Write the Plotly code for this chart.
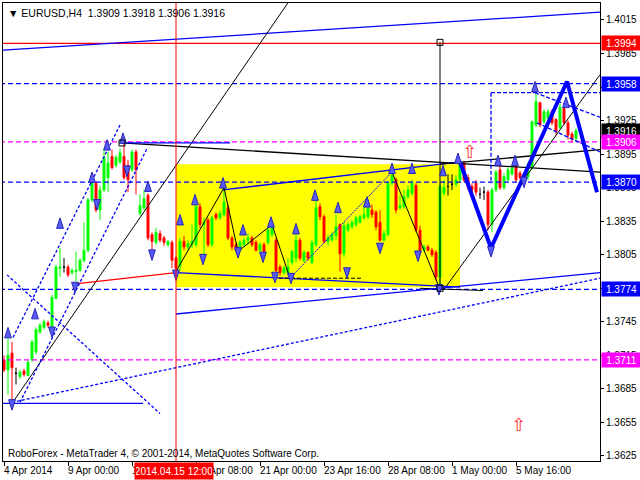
import plotly.graph_objects as go

# ---------------- data ----------------
opens = [1.3711,1.3702,1.3717,1.3699,1.3696,1.3701,1.3697,1.3711,1.3718,1.3736,
         1.3740,1.3744,1.3736,1.3766,1.3793,1.3794,1.3794,1.3789,1.3790,1.3791,
         1.3800,1.3809,1.3854,1.3869,1.3845,1.3863,1.3874,1.3893,1.3885,1.3888,
         1.3893,1.3885,1.3881,1.3897,1.3842,1.3847,1.3858,1.3823,1.3816,1.3824,
         1.3820,1.3814,1.3816,1.3802,1.3795,1.3817,1.3812,1.3814,1.3814,1.3848,
         1.3832,1.3836,1.3814,1.3841,1.3838,1.3841,1.3847,1.3820,1.3814,1.3809,
         1.3814,1.3818,1.3820,1.3816,1.3809,1.3814,1.3816,1.3823,1.3818,1.3794,
         1.3789,1.3789,1.3798,1.3802,1.3818,1.3800,1.3807,1.3798,1.3814,1.3848,
         1.3839,1.3817,1.3818,1.3822,1.3832,1.3806,1.3827,1.3830,1.3832,1.3834,
         1.3838,1.3839,1.3845,1.3843,1.3834,1.3818,1.3823,1.3869,1.3872,1.3847,
         1.3848,1.3857,1.3860,1.3867,1.3827,1.3809,1.3812,1.3809,1.3807,1.3785,
         1.3860,1.3866,1.3868,1.3868,1.3872,1.3887,1.3874,1.3866,1.3869,1.3859,
         1.3861,1.3861,1.3832,1.3863,1.3881,1.3865,1.3872,1.3877,1.3884,1.3878,
         1.3877,1.3875,1.3883,1.3921,1.3941,1.3924,1.3927,1.3933,1.3926,1.3919,
         1.3936,1.3923,1.3913,1.3909]
highs = [1.3715,1.3731,1.3727,1.3704,1.3702,1.3703,1.3711,1.3729,1.3740,1.3744,
         1.3747,1.3746,1.3769,1.3796,1.3811,1.3802,1.3796,1.3793,1.3808,1.3802,
         1.3834,1.3856,1.3871,1.3871,1.3867,1.3899,1.3897,1.3899,1.3894,1.3900,
         1.3905,1.3890,1.3899,1.3899,1.3859,1.3863,1.3860,1.3825,1.3829,1.3827,
         1.3822,1.3818,1.3818,1.3804,1.3820,1.3822,1.3818,1.3832,1.3850,1.3851,
         1.3838,1.3838,1.3840,1.3843,1.3845,1.3865,1.3850,1.3822,1.3816,1.3818,
         1.3820,1.3824,1.3822,1.3818,1.3816,1.3816,1.3829,1.3832,1.3820,1.3796,
         1.3795,1.3802,1.3809,1.3825,1.3820,1.3809,1.3808,1.3818,1.3854,1.3851,
         1.3841,1.3823,1.3825,1.3841,1.3833,1.3834,1.3834,1.3836,1.3840,1.3841,
         1.3850,1.3854,1.3850,1.3845,1.3845,1.3827,1.3871,1.3879,1.3874,1.3858,
         1.3863,1.3867,1.3872,1.3869,1.3831,1.3814,1.3814,1.3811,1.3809,1.3868,
         1.3872,1.3877,1.3877,1.3876,1.3890,1.3889,1.3877,1.3869,1.3872,1.3865,
         1.3866,1.3863,1.3865,1.3881,1.3885,1.3878,1.3883,1.3885,1.3885,1.3880,
         1.3879,1.3888,1.3925,1.3950,1.3942,1.3935,1.3935,1.3935,1.3927,1.3940,
         1.3938,1.3925,1.3915,1.3918]
lows = [1.3700,1.3680,1.3672,1.3689,1.3694,1.3696,1.3696,1.3709,1.3716,1.3734,
        1.3738,1.3740,1.3734,1.3765,1.3785,1.3789,1.3785,1.3787,1.3781,1.3790,
        1.3798,1.3807,1.3852,1.3843,1.3836,1.3861,1.3861,1.3881,1.3883,1.3886,
        1.3872,1.3861,1.3879,1.3859,1.3840,1.3845,1.3818,1.3807,1.3814,1.3816,
        1.3813,1.3812,1.3793,1.3790,1.3791,1.3809,1.3809,1.3811,1.3812,1.3829,
        1.3803,1.3812,1.3812,1.3836,1.3836,1.3839,1.3818,1.3809,1.3808,1.3808,
        1.3812,1.3814,1.3812,1.3808,1.3808,1.3805,1.3814,1.3821,1.3789,1.3786,
        1.3787,1.3787,1.3796,1.3798,1.3800,1.3798,1.3800,1.3797,1.3812,1.3836,
        1.3815,1.3813,1.3817,1.3818,1.3790,1.3803,1.3825,1.3828,1.3830,1.3833,
        1.3836,1.3837,1.3838,1.3827,1.3817,1.3817,1.3821,1.3867,1.3842,1.3845,
        1.3846,1.3855,1.3858,1.3825,1.3807,1.3808,1.3808,1.3803,1.3782,1.3774,
        1.3858,1.3858,1.3863,1.3866,1.3870,1.3870,1.3863,1.3860,1.3858,1.3855,
        1.3854,1.3827,1.3825,1.3861,1.3863,1.3863,1.3870,1.3876,1.3870,1.3872,
        1.3869,1.3872,1.3881,1.3919,1.3919,1.3922,1.3926,1.3921,1.3912,1.3917,
        1.3921,1.3908,1.3905,1.3906]
closes = [1.3702,1.3715,1.3704,1.3699,1.3700,1.3698,1.3709,1.3727,1.3738,1.3742,
          1.3745,1.3742,1.3767,1.3794,1.3794,1.3794,1.3787,1.3791,1.3791,1.3800,
          1.3809,1.3854,1.3869,1.3845,1.3863,1.3892,1.3887,1.3883,1.3892,1.3896,
          1.3874,1.3872,1.3897,1.3881,1.3849,1.3855,1.3820,1.3817,1.3825,1.3818,
          1.3816,1.3817,1.3800,1.3793,1.3817,1.3812,1.3815,1.3817,1.3848,1.3832,
          1.3834,1.3814,1.3838,1.3838,1.3842,1.3852,1.3820,1.3812,1.3809,1.3816,
          1.3818,1.3820,1.3814,1.3809,1.3814,1.3808,1.3827,1.3829,1.3791,1.3789,
          1.3793,1.3794,1.3808,1.3818,1.3802,1.3807,1.3802,1.3816,1.3847,1.3839,
          1.3817,1.3820,1.3823,1.3830,1.3806,1.3831,1.3832,1.3834,1.3838,1.3839,
          1.3841,1.3847,1.3841,1.3830,1.3818,1.3824,1.3869,1.3876,1.3845,1.3849,
          1.3857,1.3863,1.3869,1.3827,1.3809,1.3812,1.3809,1.3805,1.3785,1.3866,
          1.3865,1.3866,1.3868,1.3872,1.3888,1.3872,1.3866,1.3863,1.3861,1.3859,
          1.3861,1.3832,1.3863,1.3879,1.3865,1.3875,1.3881,1.3883,1.3872,1.3874,
          1.3872,1.3885,1.3924,1.3942,1.3921,1.3933,1.3933,1.3923,1.3915,1.3937,
          1.3923,1.3912,1.3908,1.3916]
bars = list(range(len(opens)))

time_tick_bars = [0, 16, 32, 48, 64, 80, 96, 112, 128]
time_tick_labels = ["4 Apr 2014", "9 Apr 00:00", "11 Apr 16:00", "16 Apr 08:00",
                    "21 Apr 00:00", "23 Apr 16:00", "28 Apr 08:00", "1 May 00:00",
                    "5 May 16:00"]
price_ticks = [1.4015, 1.3985, 1.3955, 1.3925, 1.3895, 1.3865, 1.3835, 1.3805,
               1.3775, 1.3745, 1.3715, 1.3685, 1.3655, 1.3625]

crosshair_bar = 43
crosshair_label = "2014.04.15 12:00"

# horizontal levels: price, colour, dash
level_prices = [1.3994, 1.3958, 1.3906, 1.3870, 1.3774, 1.3711]
level_colors = ["#FF0000", "#0000FF", "#FF00FF", "#0000FF", "#0000FF", "#FF00FF"]
level_dashes = ["solid", "5px,3px", "5px,3px", "5px,3px", "5px,3px", "5px,3px"]

# price boxes on the right scale
box_prices = [1.3994, 1.3958, 1.3916, 1.3906, 1.3870, 1.3774, 1.3711]
box_colors = ["#FF0000", "#0000FF", "#000000", "#FF00FF", "#0000FF", "#0000FF", "#FF00FF"]

# rectangle zone
zone_bars = [43, 114]
zone_prices = [1.3776, 1.3886]

# trend lines: (bars, prices, colour, width, dash)
trend_lines = {
    "channel_top":   ([-0.25, 149], [1.3988, 1.4022], "#0000FF", 1.3, "solid"),
    "steep_black":   ([2, 71.5], [1.3672, 1.4033], "#000000", 1, "solid"),
    "fall_black":    ([29.5, 149], [1.3905, 1.3879], "#000000", 1.3, "solid"),
    "short_blue":    ([30, 56.5], [1.3905, 1.3905], "#0000FF", 1.3, "solid"),
    "vert_black":    ([109, 109], [1.3995, 1.3775], "#000000", 1, "solid"),
    "zone_top":      ([54.75, 114], [1.3863, 1.3888], "#0000FF", 1.3, "solid"),
    "zigzag_black":  ([43, 55, 58.5, 67, 71.5], [1.3790, 1.3865, 1.3808, 1.3832, 1.3784], "#000000", 1, "solid"),
    "rise_dotted":   ([71.5, 97], [1.3784, 1.3879], "#0000FF", 1, "2px,1px"),
    "drop_black":    ([97, 109], [1.3879, 1.3774], "#000000", 1, "solid"),
    "up_black":      ([110, 149], [1.3774, 1.3966], "#000000", 1, "solid"),
    "flat_black":    ([109, 149], [1.3886, 1.3899], "#000000", 1.3, "solid"),
    "zone_bottom":   ([43, 114], [1.3789, 1.3776], "#0000FF", 1.3, "solid"),
    "dash_black":    ([67.25, 89.75], [1.3784, 1.3784], "#000000", 1, "4px,2px"),
    "low_black":     ([104, 119.75], [1.3775, 1.3773], "#000000", 1, "solid"),
    "red_line":      ([17.75, 43], [1.3779, 1.3789], "#FF0000", 1.3, "solid"),
    "channel_low":   ([43, 149], [1.3752, 1.3789], "#0000FF", 1.3, "solid"),
    "dotted_long":   ([2, 149], [1.3673, 1.3784], "#0000FF", 1.3, "3px,2px"),
    "base_blue":     ([-0.25, 34.75], [1.3672, 1.3672], "#0000FF", 1.3, "solid"),
    "dotted_desc":   ([0.75, 39], [1.3787, 1.3663], "#0000FF", 1.3, "3px,2px"),
    "dotted_up_a":   ([2.25, 29], [1.3731, 1.3921], "#0000FF", 1.3, "3px,2px"),
    "dotted_up_b":   ([4, 35.75], [1.3673, 1.3900], "#0000FF", 1.3, "3px,2px"),
    "box_vert":      ([121.75, 121.75], [1.3950, 1.3869], "#0000FF", 1.3, "4px,2px"),
    "box_top":       ([121.75, 149.5], [1.3950, 1.3950], "#0000FF", 1.3, "4px,2px"),
    "tri_upper":     ([132.75, 149], [1.3950, 1.3928], "#0000FF", 1.3, "4px,2px"),
    "tri_lower":     ([133.25, 149], [1.3923, 1.3897], "#0000FF", 1.3, "4px,2px"),
}
forecast_bars = [114, 121.75, 140.75, 148.25]
forecast_prices = [1.3888, 1.3811, 1.3960, 1.3861]

up_arrow_bars = [1, 7.75, 14, 22, 25.75, 29.75, 36, 44, 47.75, 54.75, 59.75, 66.75,
                 73, 77.75, 83.5, 90.75, 97, 102, 109.75, 113.5, 123.5, 127.75, 132.75, 140.5]
up_arrow_prices = [1.3740, 1.3757, 1.3838, 1.3879, 1.3908, 1.3914, 1.3871, 1.3841,
                   1.3859, 1.3874, 1.3832, 1.3839, 1.3833, 1.3863, 1.3852, 1.3857,
                   1.3887, 1.3887, 1.3885, 1.3896, 1.3894, 1.3894, 1.3960, 1.3946]
down_arrow_bars = [2, 12, 17.75, 23.25, 30.75, 37, 43, 49.75, 58.5, 64.75, 67.75,
                   71.75, 85.75, 94, 103.5, 108.75, 121.75, 130]
down_arrow_prices = [1.3666, 1.3731, 1.3771, 1.3845, 1.3875, 1.3800, 1.3782, 1.3796,
                     1.3802, 1.3798, 1.3780, 1.3779, 1.3784, 1.3806, 1.3799, 1.3769,
                     1.3803, 1.3865]
red_arrow_bars = [116.5, 128.75]
red_arrow_prices = [1.3896, 1.3651]
square_bars = [29.5, 109, 109]
square_prices = [1.3905, 1.3995, 1.3775]

title_text = "▼ EURUSD,H4\u00a0\u00a01.3909 1.3918 1.3906 1.3916"
credit_text = "RoboForex - MetaTrader 4, © 2001-2014, MetaQuotes Software Corp."

FONT = "Liberation Sans, Arial, sans-serif"

# ---------------- figure ----------------
fig = go.Figure()

def pick(seq, idx):
    return [seq[i] for i in idx]

groups = [
    ([i for i in bars if closes[i] > opens[i]], "#00FF00"),
    ([i for i in bars if closes[i] < opens[i]], "#FF0000"),
    ([i for i in bars if closes[i] == opens[i]], "#000000"),
]
for idx, col in groups:
    fig.add_trace(go.Candlestick(
        x=idx, open=pick(opens, idx), high=pick(highs, idx),
        low=pick(lows, idx), close=pick(closes, idx),
        increasing=dict(line=dict(color=col, width=1), fillcolor=col),
        decreasing=dict(line=dict(color=col, width=1), fillcolor=col),
        whiskerwidth=0, hoverinfo="skip", showlegend=False))

for p, c, d in zip(level_prices, level_colors, level_dashes):
    fig.add_trace(go.Scatter(x=[-1, 151], y=[p, p], mode="lines",
                             line=dict(color=c, width=1.3, dash=d),
                             hoverinfo="skip", showlegend=False))

for name, (xs, ys, c, w, d) in trend_lines.items():
    fig.add_trace(go.Scatter(x=xs, y=ys, mode="lines", name=name,
                             line=dict(color=c, width=w, dash=d),
                             hoverinfo="skip", showlegend=False))

fig.add_trace(go.Scatter(x=forecast_bars, y=forecast_prices, mode="lines",
                         line=dict(color="#0000FF", width=4),
                         hoverinfo="skip", showlegend=False))

arrow_marker = dict(symbol="arrow", size=11, color="#5A5AF5",
                    line=dict(color="#2626B8", width=1))
fig.add_trace(go.Scatter(x=up_arrow_bars, y=up_arrow_prices, mode="markers",
                         marker=dict(arrow_marker, angle=0),
                         hoverinfo="skip", showlegend=False))
fig.add_trace(go.Scatter(x=down_arrow_bars, y=down_arrow_prices, mode="markers",
                         marker=dict(arrow_marker, angle=180),
                         hoverinfo="skip", showlegend=False))
fig.add_trace(go.Scatter(x=red_arrow_bars, y=red_arrow_prices, mode="text",
                         text=["⇧"] * len(red_arrow_bars),
                         textfont=dict(color="#FF3030", size=18, family="DejaVu Sans"),
                         hoverinfo="skip", showlegend=False))
fig.add_trace(go.Scatter(x=square_bars, y=square_prices, mode="markers",
                         marker=dict(symbol="square-open", size=6, color="#000000",
                                     line=dict(width=1)),
                         hoverinfo="skip", showlegend=False))

shapes = [
    dict(type="rect", xref="x", yref="y", x0=zone_bars[0], x1=zone_bars[1],
         y0=zone_prices[0], y1=zone_prices[1], fillcolor="#FFFF00",
         line=dict(width=0), layer="below"),
    dict(type="line", xref="x", yref="paper", x0=crosshair_bar, x1=crosshair_bar,
         y0=0, y1=1, line=dict(color="#FF0000", width=1), layer="above"),
]

annotations = []
for b, lab in zip(time_tick_bars, time_tick_labels):
    annotations.append(dict(x=b, y=0, xref="x", yref="paper", text=lab,
                            showarrow=False, xanchor="left", yanchor="top",
                            xshift=-2, yshift=-2,
                            font=dict(family=FONT, size=10, color="#000000")))
annotations.append(dict(x=crosshair_bar - 0.5, y=0, xref="x", yref="paper",
                        text=crosshair_label, showarrow=False, xanchor="center",
                        yanchor="top", yshift=-1, bgcolor="#FF0000", width=76, height=14,
                        font=dict(family=FONT, size=10, color="#FFFFFF")))
for p, c in zip(box_prices, box_colors):
    annotations.append(dict(x=1, y=p, xref="paper", yref="y", text=f"{p:.4f}",
                            showarrow=False, xanchor="left", yanchor="middle", xshift=1,
                            bgcolor=c, width=37, height=12, align="center",
                            font=dict(family=FONT, size=10, color="#FFFFFF")))
annotations.append(dict(x=0, y=1, xref="paper", yref="paper", text=title_text,
                        showarrow=False, xanchor="left", yanchor="top", xshift=3, yshift=-2,
                        font=dict(family=FONT, size=10.5, color="#000000")))
annotations.append(dict(x=0, y=0, xref="paper", yref="paper", text=credit_text,
                        showarrow=False, xanchor="left", yanchor="bottom", xshift=3, yshift=0,
                        font=dict(family=FONT, size=10, color="#000000")))

fig.update_layout(
    width=640, height=480,
    margin=dict(l=3, r=40, t=3, b=19),
    paper_bgcolor="#FFFFFF", plot_bgcolor="#FFFFFF",
    showlegend=False, shapes=shapes, annotations=annotations,
    font=dict(family=FONT, size=10, color="#000000"),
    hovermode=False,
    xaxis=dict(range=[-0.25, 149], showgrid=False, zeroline=False,
               rangeslider=dict(visible=False),
               tickvals=time_tick_bars, showticklabels=False,
               ticks="outside", ticklen=4, tickcolor="#000000",
               showline=True, linecolor="#000000", linewidth=1, mirror=True),
    yaxis=dict(range=[1.36205, 1.40302], side="right", showgrid=False, zeroline=False,
               tickvals=price_ticks, ticktext=[f"{p:.4f}" for p in price_ticks],
               ticks="outside", ticklen=3, tickcolor="#000000",
               tickfont=dict(family=FONT, size=10, color="#000000"),
               showline=True, linecolor="#000000", linewidth=1, mirror=True),
)

fig.write_html("out.html", config={"displayModeBar": False},
               post_script="document.body.style.margin='0';document.body.style.overflow='hidden';")
